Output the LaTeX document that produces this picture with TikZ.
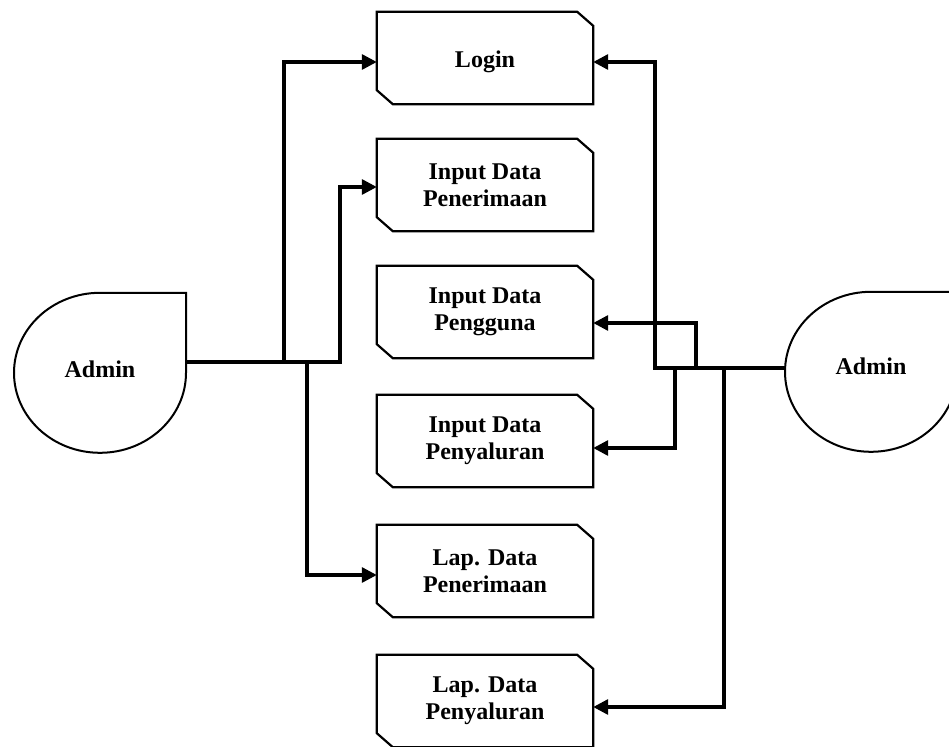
\documentclass[tikz,border=0pt]{standalone}
\usepackage{fontspec}
\setmainfont{Liberation Serif}
\usetikzlibrary{arrows.meta}

\tikzset{
  procbox/.style={minimum width=216pt, minimum height=92pt, inner sep=0pt,
    align=center, font=\bfseries\fontsize{24}{27}\selectfont},
  actor/.style={minimum width=172pt, minimum height=160pt, inner sep=0pt,
    font=\bfseries\fontsize{24}{27}\selectfont},
  boxline/.style={line width=2.2pt, line join=miter},
  actorline/.style={line width=2pt},
  conn/.style={line width=3.2pt, line join=miter},
  tip/.style={-{Triangle[length=15pt,width=15pt]}}
}

\begin{document}
\begin{tikzpicture}[x=1pt, y=-1pt]
  \useasboundingbox (0,0) rectangle (949,746);
  \fill[white] (0,0) rectangle (949,746);
  \clip (0,0) rectangle (949,746);

  % process boxes
  \node[procbox, text height=20pt, text depth=0pt] (login) at (485,58) {Login};
  \node[procbox] (inpen)  at (485,185) {Input Data\\Penerimaan};
  \node[procbox] (inpeng) at (485,312) {Input Data\\Pengguna};
  \node[procbox] (inpy)   at (485,441) {Input Data\\Penyaluran};
  \node[procbox] (lappen) at (485,571) {Lap. Data\\Penerimaan};
  \node[procbox] (lappy)  at (485,701) {Lap. Data\\Penyaluran};

  \foreach \n in {login,inpen,inpeng,inpy,lappen,lappy}{
    \draw[boxline] (\n.north west) -- ([xshift=-16pt]\n.north east)
      -- ([yshift=-14pt]\n.north east) -- (\n.south east)
      -- ([xshift=16pt]\n.south west) -- ([yshift=14pt]\n.south west) -- cycle;
  }

  % actors
  \node[actor, text depth=8pt]  (adminL) at (100,373) {Admin};
  \node[actor, text depth=12pt] (adminR) at (871,372) {Admin};
  \foreach \n in {adminL,adminR}{
    \draw[actorline] (\n.north east) -- (\n.north)
      arc[start angle=90, end angle=360, x radius=86pt, y radius=80pt] -- cycle;
  }

  % left junctions
  \coordinate (l1) at (284,362);
  \coordinate (l2) at (307,362);
  \coordinate (l3) at (340,362);

  \draw[conn,tip] ([yshift=11pt]adminL.east) -- (l3) |- ([yshift=-2pt]inpen.west);
  \draw[conn,tip] (l1) |- ([yshift=-4pt]login.west);
  \draw[conn,tip] (l2) |- ([yshift=-4pt]lappen.west);

  % right junctions
  \coordinate (r1) at (655,368);
  \coordinate (r2) at (675,368);
  \coordinate (r3) at (696,368);
  \coordinate (r4) at (724,368);

  \draw[conn,tip] ([yshift=4pt]adminR.west) -- (r1) |- ([yshift=-4pt]login.east);
  \draw[conn,tip] (r3) |- ([yshift=-11pt]inpeng.east);
  \draw[conn,tip] (r2) |- ([yshift=-7pt]inpy.east);
  \draw[conn,tip] (r4) |- ([yshift=-6pt]lappy.east);
\end{tikzpicture}
\end{document}
